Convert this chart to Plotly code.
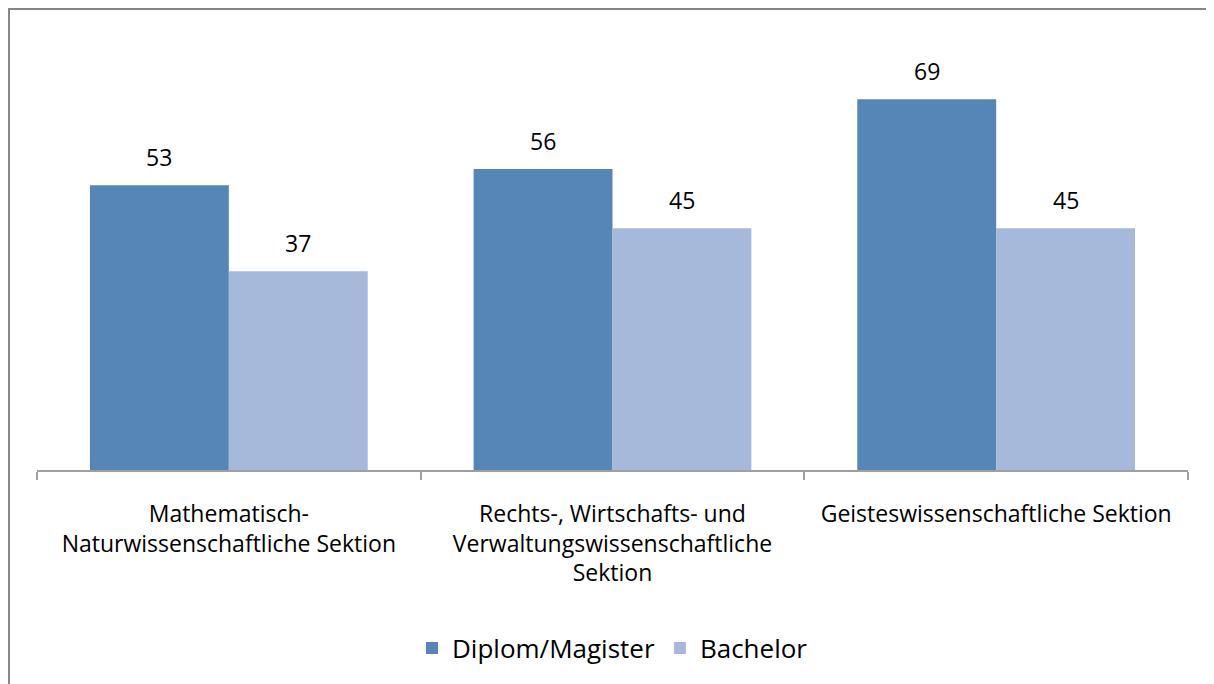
import plotly.graph_objects as go

categories = [
    "Mathematisch-<br>Naturwissenschaftliche Sektion",
    "Rechts-, Wirtschafts- und<br>Verwaltungswissenschaftliche<br>Sektion",
    "Geisteswissenschaftliche Sektion",
]
diplom = [53, 56, 69]
bachelor = [37, 45, 45]
series_names = ["Diplom/Magister", "Bachelor"]
colors = ["#5685B7", "#A6B9DA"]

FONT = "'Open Sans', sans-serif"

fig = go.Figure()
for name, vals, col in zip(series_names, [diplom, bachelor], colors):
    fig.add_trace(go.Bar(x=categories, y=vals, name=name, marker=dict(color=col, line=dict(width=0))))

W, H = 1214, 684
L, R, T, B = 29, 34, 32, 222
plot_w = W - L - R
plot_h = H - T - B
bargap = 0.276
bar_px = plot_w / len(categories) * (1 - bargap) / 2

annotations = []
for i, vals in enumerate([diplom, bachelor]):
    shift = -bar_px / 2 if i == 0 else bar_px / 2
    for c, v in zip(categories, vals):
        annotations.append(dict(x=c, y=v, text=str(v), showarrow=False, xshift=shift,
                                yshift=28, font=dict(size=23, color="#000000", family=FONT)))

fx = lambda px: (px - L) / plot_w
fy = lambda py: (H - B - py) / plot_h
shapes = [
    dict(type="line", xref="paper", yref="paper", x0=fx(1), x1=fx(1), y0=fy(1), y1=fy(H),
         line=dict(color="#868686", width=2)),
    dict(type="line", xref="paper", yref="paper", x0=fx(0), x1=fx(W), y0=fy(1), y1=fy(1),
         line=dict(color="#868686", width=2)),
]

fig.update_layout(
    width=W, height=H,
    margin=dict(l=L, r=R, t=T, b=B, pad=0),
    paper_bgcolor="white", plot_bgcolor="white",
    barmode="group", bargap=bargap, bargroupgap=0,
    font=dict(family=FONT, color="#000000"),
    showlegend=True,
    legend=dict(orientation="h", x=0.5, xanchor="center", y=-0.414, yanchor="middle",
                font=dict(size=26, family=FONT), itemwidth=30, traceorder="normal"),
    annotations=annotations,
    shapes=shapes,
    xaxis=dict(type="category", showline=True, linecolor="#A0A0A0", linewidth=2,
               ticks="outside", tickson="boundaries", ticklen=8, tickcolor="#A0A0A0",
               tickwidth=2, tickfont=dict(size=23, family=FONT, color="#000000"),
               ticklabelstandoff=22, showgrid=False),
    yaxis=dict(range=[0, 80], visible=False, showgrid=False, zeroline=False),
)

fig.write_html("out.html")
